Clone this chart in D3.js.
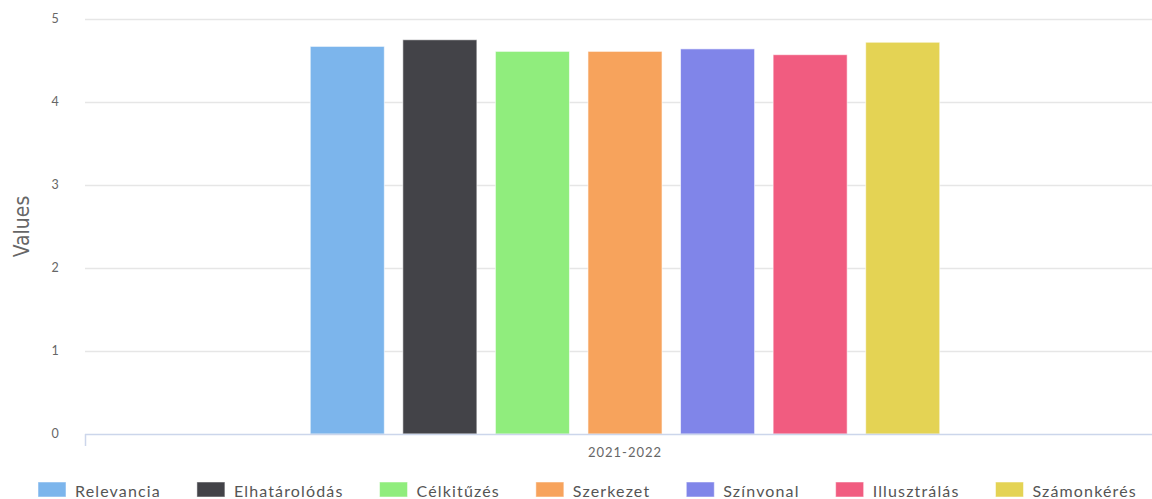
<!DOCTYPE html>
<html><head><meta charset="utf-8">
<script src="https://cdn.jsdelivr.net/npm/d3@7"></script>
<style>body{margin:0;background:#fff}svg{display:block;font-family:Lato,"Open Sans",sans-serif}</style>
</head><body>
<svg id="c" width="1152" height="499"></svg>
<script>
const categories = ["2021-2022"];
const seriesNames = ["Relevancia","Elhatárolódás","Célkitűzés","Szerkezet","Színvonal","Illusztrálás","Számonkérés"];
const seriesValues = [4.67, 4.75, 4.61, 4.61, 4.64, 4.57, 4.72];
const colors = ["#7cb5ec","#434348","#90ed7d","#f7a35c","#8085e9","#f15c80","#e4d354"];
const yTicks = [0,1,2,3,4,5];

(function(){
const svg = d3.select("#c");
const pLeft = 85, pRight = 1165, pTop = 19, pBottom = 434;
const y = d3.scaleLinear().domain([0,5]).range([pBottom, pTop]);
const x0 = d3.scaleBand().domain(categories).range([pLeft, pRight]).paddingInner(0).paddingOuter(0);
const x1 = d3.scaleBand().domain(seriesNames)
  .range([x0.bandwidth()*0.2, x0.bandwidth()*0.8]).paddingInner(0.2).paddingOuter(0.1);

// gridlines
svg.append("g").selectAll("line").data(yTicks.filter(d=>d>0)).join("line")
  .attr("x1", pLeft).attr("x2", 1152).attr("y1", d=>y(d)+0.5).attr("y2", d=>y(d)+0.5)
  .attr("stroke", "#e6e6e6").attr("stroke-width", 1.5);

// y labels
svg.append("g").selectAll("text").data(yTicks).join("text")
  .attr("x", 55).attr("y", d=>y(d)+4).attr("text-anchor","middle")
  .attr("font-size", 12.5).attr("fill", "#666").text(d=>d);

// y title
svg.append("text").attr("transform", `translate(29,${(pTop+pBottom)/2}) rotate(-90)`)
  .attr("text-anchor","middle").attr("font-size", 21).attr("fill","#666")
  .attr("font-family","'Liberation Sans Narrow','DejaVu Sans Condensed',sans-serif")
  .text("Values");

// bars
const g = svg.append("g").attr("transform", `translate(${x0(categories[0])},0)`);
g.selectAll("rect").data(seriesValues).join("rect")
  .attr("x", (d,i)=>x1(seriesNames[i]))
  .attr("width", x1.bandwidth())
  .attr("y", d=>y(d)).attr("height", d=>pBottom - y(d))
  .attr("fill", (d,i)=>colors[i])
  .attr("stroke", "#ffffff").attr("stroke-opacity", 0.6).attr("stroke-width", 1);

// x axis
svg.append("line").attr("x1", pLeft).attr("x2", 1152).attr("y1", pBottom+0.5).attr("y2", pBottom+0.5)
  .attr("stroke", "#ccd6eb").attr("stroke-width", 1.5);
svg.append("line").attr("x1", pLeft+0.5).attr("x2", pLeft+0.5).attr("y1", pBottom).attr("y2", pBottom+12)
  .attr("stroke", "#ccd6eb").attr("stroke-width", 1.5);
svg.append("g").selectAll("text").data(categories).join("text")
  .attr("x", d=>x0(d)+x0.bandwidth()/2).attr("y", 457).attr("text-anchor","middle")
  .attr("font-size", 13).attr("fill","#666").attr("letter-spacing", 1).text(d=>d);

// legend
const lg = svg.append("g");
let lx = 38;
seriesNames.forEach((name,i)=>{
  lg.append("rect").attr("x", lx).attr("y", 482).attr("width", 28).attr("height", 15)
    .attr("fill", colors[i]).attr("stroke","#fff").attr("stroke-opacity",0.5);
  const t = lg.append("text").attr("x", lx+37).attr("y", 497).attr("font-size", 16)
    .attr("fill", "#555").attr("letter-spacing", 1.15).text(name);
  lx = lx + 37 + t.node().getComputedTextLength() + 36;
});
})();
</script>
</body></html>
